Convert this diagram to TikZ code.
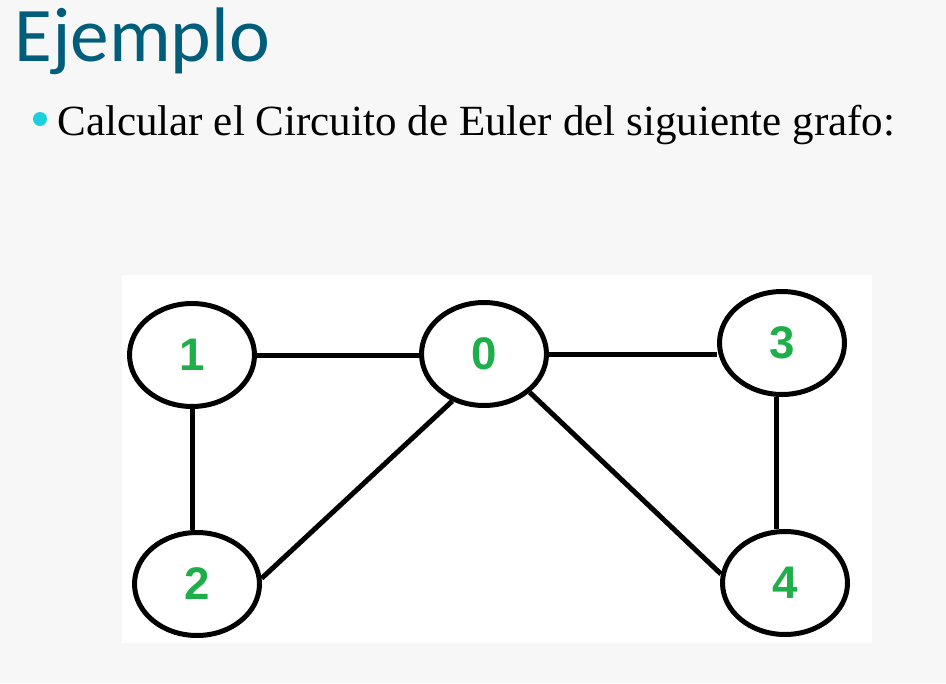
\documentclass[tikz,border=0pt]{standalone}
\usepackage{fontspec}
\setmainfont{Liberation Serif}
\newfontfamily\titlefont{Carlito}
\newfontfamily\nodefont{Liberation Sans}
\usetikzlibrary{positioning,shapes.geometric}
\definecolor{slidebg}{HTML}{F7F7F7}
\definecolor{titleteal}{HTML}{005E7A}
\definecolor{bulletcyan}{HTML}{1CCFDC}
\definecolor{vertgreen}{HTML}{1FAF4A}
\tikzset{
	vert/.style={ellipse, draw, line width=1mm, minimum width=2.5cm, minimum height=2.06cm, inner sep=0pt, text=vertgreen, font=\nodefont\bfseries\fontsize{26}{26}\selectfont},
	edge/.style={line width=1mm}
}
\begin{document}
\begin{tikzpicture}[x=0.02cm, y=-0.02cm]
				\fill [slidebg] (0,0) rectangle (946,683);
				\useasboundingbox (0,0) rectangle (946,683);
				\fill [white] (122,275) rectangle (872,643);
				\node[anchor=base west, inner sep=0pt, text=titleteal, font=\titlefont\fontsize{44}{44}\selectfont] (title) at (14,61) {Ejemplo};
				\fill [bulletcyan] (40,119) circle (7);
				\node[anchor=base west, inner sep=0pt, font=\fontsize{24.5}{24.5}\selectfont] (task) at (57,135) {Calcular el Circuito de Euler del siguiente grafo:};
				% vertices
				\node[vert] (v1) at (192,355) {1};
				\node[vert] (v0) at (484,354) {0};
				\node[vert] (v3) at (782,343) {3};
				\node[vert] (v2) at (197,584) {2};
				\node[vert] (v4) at (785,583) {4};
				% edges
				\draw [edge] (v1.east) -- (v0.west |- v1.east);
				\draw [edge] (v0.east) -- (v3.west |- v0.east);
				\draw [edge] (v1.south) -- (v1.south |- v2.north);
				\draw [edge] (v3.-96) -- (v3.-96 |- v4.north);
				\draw [edge] (v0.-124) -- (v2.5);
				\draw [edge] (v0.-40) -- (v4.172);
			\end{tikzpicture}
\end{document}
